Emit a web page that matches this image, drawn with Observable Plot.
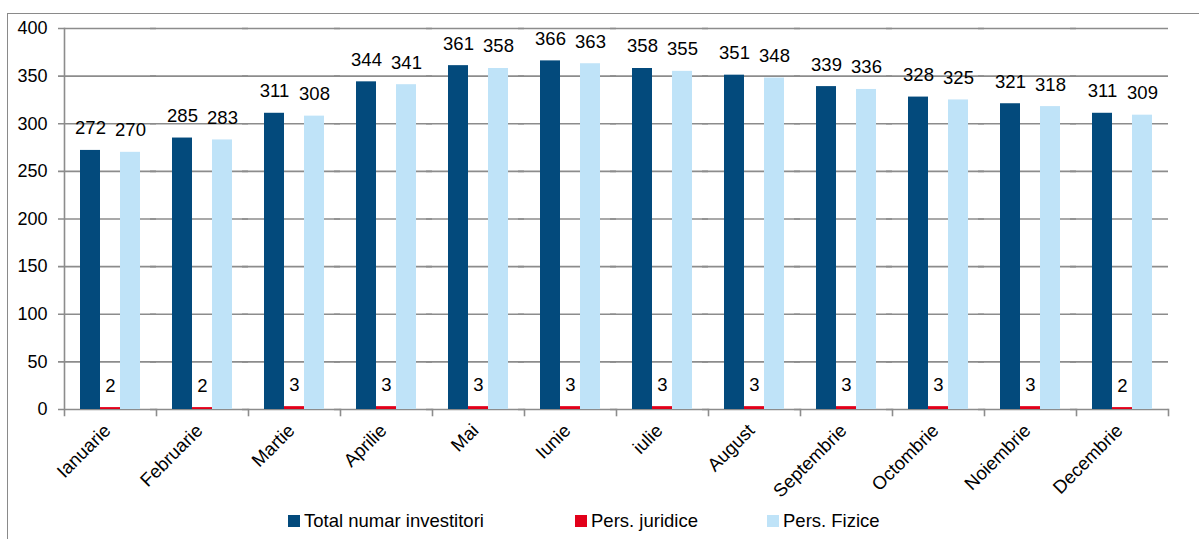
<!DOCTYPE html>
<html>
<head>
<meta charset="utf-8">
<script src="https://cdn.jsdelivr.net/npm/d3@7"></script>
<script src="https://cdn.jsdelivr.net/npm/@observablehq/plot@0.6"></script>
<style>
  html, body { margin: 0; padding: 0; background: #fff; overflow: hidden; }
  body { width: 1199px; height: 539px; position: relative; font-family: "Liberation Sans", Arial, sans-serif; }
  #border { position: absolute; left: 7px; top: 13px; width: 1200px; height: 540px; border: 1.5px solid #8a8a8a; box-sizing: border-box; }
  #chart { position: absolute; left: 0; top: 0; }
  .leg { position: absolute; top: 510px; font-size: 18.5px; line-height: 22px; color: #000; display: flex; align-items: center; white-space: nowrap; }
  .sw { width: 12px; height: 12px; display: inline-block; margin-right: 4px; }
</style>
</head>
<body>
<div id="border"></div>
<div id="chart"></div>
<div class="leg" style="left:288px"><span class="sw" style="background:#034a7c"></span>Total numar investitori</div>
<div class="leg" style="left:575px"><span class="sw" style="background:#e2001a"></span>Pers. juridice</div>
<div class="leg" style="left:767px"><span class="sw" style="background:#bfe3f8"></span>Pers. Fizice</div>
<script>
const months = ["Ianuarie","Februarie","Martie","Aprilie","Mai","Iunie","iulie","August","Septembrie","Octombrie","Noiembrie","Decembrie"];
const seriesNames = ["Total numar investitori","Pers. juridice","Pers. Fizice"];
const seriesColors = ["#034a7c","#e2001a","#bfe3f8"];
const total    = [272,285,311,344,361,366,358,351,339,328,321,311];
const juridice = [2,2,3,3,3,3,3,3,3,3,3,2];
const fizice   = [270,283,308,341,358,363,355,348,336,325,318,309];
const yTicks = [0,50,100,150,200,250,300,350,400];

const data = [];
months.forEach((m, i) => {
  data.push({month: m, series: seriesNames[0], value: total[i]});
  data.push({month: m, series: seriesNames[1], value: juridice[i]});
  data.push({month: m, series: seriesNames[2], value: fizice[i]});
});

const grid = "#8c8c8c";
const chart = Plot.plot({
  width: 1199,
  height: 500,
  marginLeft: 61,
  marginRight: 29,
  marginTop: 28,
  marginBottom: 91,
  style: {fontFamily: "Liberation Sans, Arial, sans-serif", fontSize: "17px", color: "#000", background: "transparent"},
  fx: {domain: months, padding: 0, label: null},
  x: {domain: seriesNames, paddingInner: 0, paddingOuter: 0.75, axis: null},
  y: {domain: [0, 400], label: null, axis: null},
  color: {domain: seriesNames, range: seriesColors},
  marks: [
    Plot.ruleY(yTicks, {y: d => d, stroke: grid, strokeWidth: 1.6, strokeOpacity: 1, insetLeft: -6}),
    Plot.frame({anchor: "left", stroke: grid, strokeWidth: 1.6, facet: "super", insetBottom: -6}),
    Plot.frame({anchor: "right", stroke: grid, strokeWidth: 1.6, insetTop: 381, insetBottom: -6}),
    Plot.barY(data, {fx: "month", x: "series", y: "value", fill: "series"}),
    Plot.text(data, {fx: "month", x: "series", y: "value", text: d => String(d.value), dy: -22, fontSize: 18.5, fill: "#000"}),
    Plot.axisY(yTicks, {tickSize: 0, tickPadding: 17, fontSize: 18, tickFormat: d => String(d)}),
    Plot.axisFx({anchor: "bottom", tickSize: 0, tickPadding: 18, tickRotate: -45, fontSize: 18.5, dx: -3, label: null})
  ]
});
document.getElementById("chart").appendChild(chart);
</script>
</body>
</html>
